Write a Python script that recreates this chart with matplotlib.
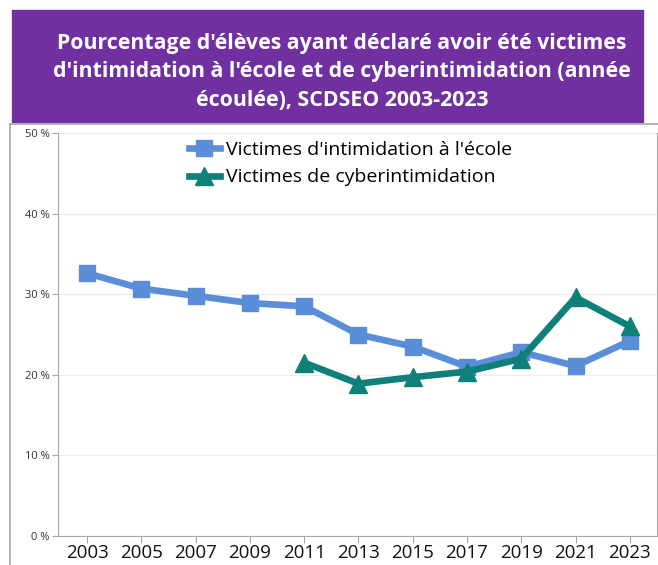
import matplotlib
matplotlib.use("Agg")
import matplotlib.pyplot as plt
from matplotlib.patches import Rectangle
from matplotlib.lines import Line2D

years = [2003, 2005, 2007, 2009, 2011, 2013, 2015, 2017, 2019, 2021, 2023]
ecole = [32.6, 30.7, 29.8, 28.9, 28.5, 25.0, 23.5, 21.0, 22.8, 21.1, 24.2]
cyber_years = [2011, 2013, 2015, 2017, 2019, 2021, 2023]
cyber = [21.5, 18.9, 19.7, 20.4, 22.0, 29.6, 26.0]

titre = ("Pourcentage d'élèves ayant déclaré avoir été victimes\n"
         "d'intimidation à l'école et de cyberintimidation (année\n"
         "écoulée), SCDSEO 2003-2023")

plt.rcParams["font.family"] = ["Open Sans", "DejaVu Sans"]

fig = plt.figure(figsize=(6.58, 5.65), dpi=100)

# bandeau violet du titre
fig.patches.append(Rectangle((12 / 658, 1 - 122 / 565), 631 / 658, 112 / 565,
                             transform=fig.transFigure, color="#7030A0", zorder=0))
fig.text(342 / 658, 1 - 72 / 565, titre, ha="center", va="center", color="white",
         fontsize=15.3, fontweight="bold", linespacing=1.48)

# cadre gris du graphique
fig.add_artist(Line2D([10 / 658, 10 / 658], [0, 1 - 124 / 565], transform=fig.transFigure,
                      color="#a6a6a6", lw=1.2))
fig.add_artist(Line2D([10 / 658, 1], [1 - 124 / 565, 1 - 124 / 565], transform=fig.transFigure,
                      color="#a6a6a6", lw=1.2))

ax = fig.add_axes([58 / 658, 1 - 536 / 565, 599 / 658, 403 / 565])

ax.plot(years, ecole, color="#5B8ED8", lw=4.8, marker="s", markersize=11.5,
        label="Victimes d'intimidation à l'école", zorder=3)
ax.plot(cyber_years, cyber, color="#0E8078", lw=4.8, marker="^", markersize=12.5,
        label="Victimes de cyberintimidation", zorder=4)

ax.set_ylim(0, 50)
ax.set_xlim(2001.93, 2024.0)
ax.set_yticks(range(0, 51, 10))
ax.set_yticklabels([f"{v} %" for v in range(0, 51, 10)], fontsize=8, color="#333333")
ax.set_xticks(years)
ax.set_xticklabels([str(y) for y in years], fontsize=13.5, color="#111111")
ax.grid(axis="y", color="#ececec", lw=0.8)
ax.set_axisbelow(True)

ax.spines["top"].set_visible(False)
for s in ["left", "bottom", "right"]:
    ax.spines[s].set_color("#a6a6a6")
ax.tick_params(axis="x", length=5, color="#a6a6a6", pad=1)
ax.tick_params(axis="y", length=4, color="#a6a6a6", pad=2)

ax.legend(loc="upper left", bbox_to_anchor=(123 / 599, 1.0), frameon=False, fontsize=14,
          handlelength=1.6, labelspacing=0.5, handletextpad=0.3, borderaxespad=0.0)

fig.savefig("out.png", dpi=100)
